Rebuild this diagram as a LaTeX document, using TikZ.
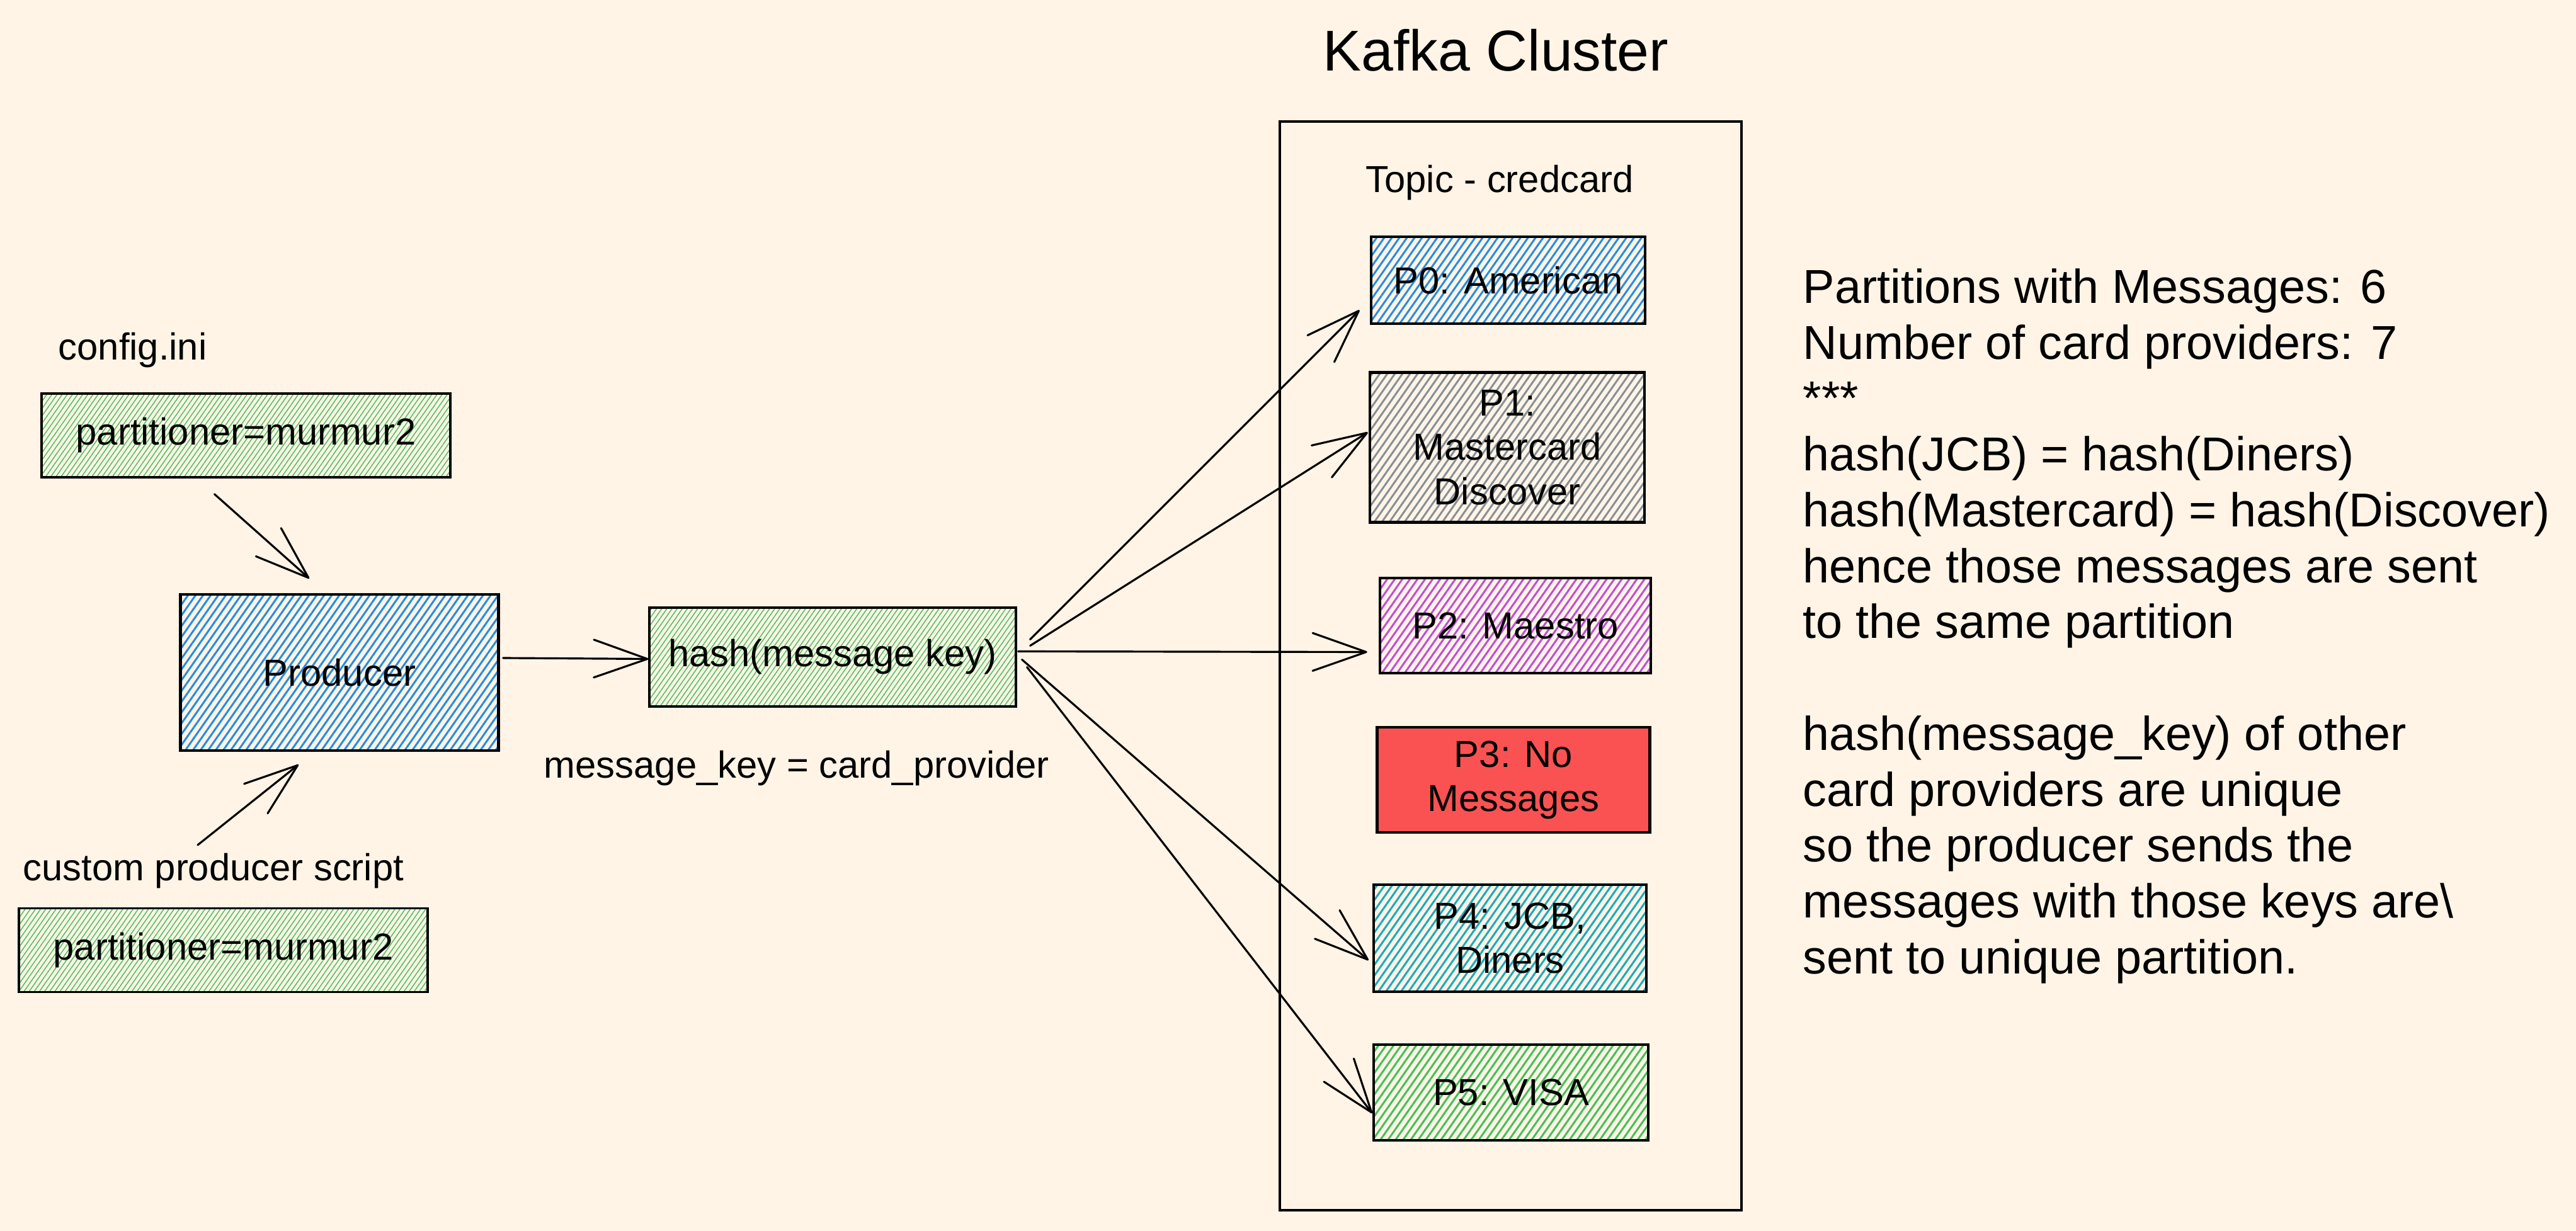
\documentclass[tikz,border=0pt]{standalone}
\usepackage{fontspec}
\setmainfont{Liberation Sans}
\usetikzlibrary{arrows.meta,patterns.meta}
\definecolor{paper}{HTML}{FFF4E6}
\definecolor{oblue}{HTML}{228BE6}
\definecolor{ogray}{HTML}{868E96}
\definecolor{ogrape}{HTML}{BE4BDB}
\definecolor{ored}{HTML}{FA5252}
\definecolor{ocyan}{HTML}{15AABF}
\definecolor{ogreen}{HTML}{40C057}
\newcommand{\bxfont}{\fontsize{17pt}{20pt}\selectfont}
\newcommand{\notefont}{\fontsize{21.5pt}{25.25pt}\selectfont}
\newcommand{\titlefont}{\fontsize{26pt}{30pt}\selectfont}

\begin{document}
\begin{tikzpicture}[>={Straight Barb[round,length=8.5mm,width=6mm]},
	arr/.style={->,line width=.9pt,line cap=round},
	part/.style={draw,line width=1.3pt,inner sep=0pt,align=center,font=\bxfont},
	hatch/.style={pattern={Lines[angle=55,distance=2.8pt,line width=.85pt]},pattern color=#1},
	fine/.style={draw,line width=.9pt,inner sep=0pt,font=\bxfont,pattern={Lines[angle=55,distance=1.9pt,line width=.4pt]},pattern color=ogreen},
	lbl/.style={inner sep=0pt,font=\bxfont}]
	\fill[paper] (0,0) rectangle (40.9,-19.55);
	\useasboundingbox (0,0) rectangle (40.9,-19.55);

	\node[inner sep=0pt,font=\titlefont] (title) at (23.75,-0.8) {Kafka Cluster};
	\node[draw,line width=1pt,minimum width=7.33cm,minimum height=17.29cm] (cluster) at (23.985,-10.575) {};
	\node[lbl] (topic) at (23.81,-2.9) {Topic - credcard};

	\node[part,hatch=oblue,minimum width=4.35cm,minimum height=1.38cm] (p0) at (23.945,-4.45) {P0: American};
	\node[part,hatch=ogray,minimum width=4.36cm,minimum height=2.38cm] (p1) at (23.93,-7.105) {P1:\\Mastercard\\Discover};
	\node[part,hatch=ogrape,minimum width=4.3cm,minimum height=1.51cm] (p2) at (24.06,-9.935) {P2: Maestro};
	\node[part,fill=ored,minimum width=4.33cm,minimum height=1.67cm] (p3) at (24.03,-12.385) {P3: No\\Messages};
	\node[part,hatch=ocyan,minimum width=4.33cm,minimum height=1.7cm] (p4) at (23.975,-14.9) {P4: JCB,\\Diners};
	\node[part,hatch=ogreen,minimum width=4.36cm,minimum height=1.52cm] (p5) at (23.99,-17.35) {P5: VISA};

	\node[part,hatch=oblue,minimum width=5.05cm,minimum height=2.48cm] (prod) at (5.39,-10.68) {Producer};
	\node[lbl,anchor=base west] (cfgtxt) at (0.92,-5.72) {config.ini};
	\node[fine,minimum width=6.49cm,minimum height=1.33cm] (cfg) at (3.905,-6.915) {partitioner=murmur2};
	\node[lbl,anchor=base west] (scrtxt) at (0.36,-13.98) {custom producer script};
	\node[fine,minimum width=6.49cm,minimum height=1.33cm] (scr) at (3.545,-15.09) {partitioner=murmur2};
	\node[fine,minimum width=5.82cm,minimum height=1.57cm] (hash) at (13.22,-10.435) {hash(message key)};
	\node[lbl,anchor=base] (keytxt) at (12.65,-12.35) {message\_key = card\_provider};

	\node[inner sep=0pt,anchor=north west,align=left,font=\notefont] (note) at (28.62,-4.26) {Partitions with Messages: 6\\
		Number of card providers: 7\\
		***\\
		hash(JCB) = hash(Diners)\\
		hash(Mastercard) = hash(Discover)\\
		hence those messages are sent\\
		to the same partition\\
		\mbox{}\\
		hash(message\_key) of other\\
		card providers are unique\\
		so the producer sends the\\
		messages with those keys are\textbackslash\\
		sent to unique partition.};

	\draw[arr] ([xshift=-.5cm,yshift=-.26cm]cfg.south) -- ([xshift=-.48cm,yshift=.23cm]prod.north);
	\draw[arr] ([xshift=-.25cm,yshift=.12cm]scrtxt.north) -- ([xshift=-.65cm,yshift=-.2cm]prod.south);
	\draw[arr] ([xshift=.05cm,yshift=.23cm]prod.east) -- ([yshift=-.03cm]hash.west);
	\draw[arr] ([xshift=.21cm,yshift=.28cm]hash.east) -- ([xshift=-.17cm,yshift=.23cm]p0.south west);
	\draw[arr] ([xshift=.21cm,yshift=.18cm]hash.east) -- ([xshift=-.01cm,yshift=.24cm]p1.west);
	\draw[arr] ([xshift=.02cm,yshift=.09cm]hash.east) -- ([xshift=-.18cm,yshift=-.42cm]p2.west);
	\draw[arr] ([xshift=.08cm,yshift=-.04cm]hash.east) -- ([xshift=-.06cm,yshift=-.35cm]p4.west);
	\draw[arr] ([xshift=.16cm,yshift=-.16cm]hash.east) -- ([yshift=-.33cm]p5.west);
\end{tikzpicture}
\end{document}
